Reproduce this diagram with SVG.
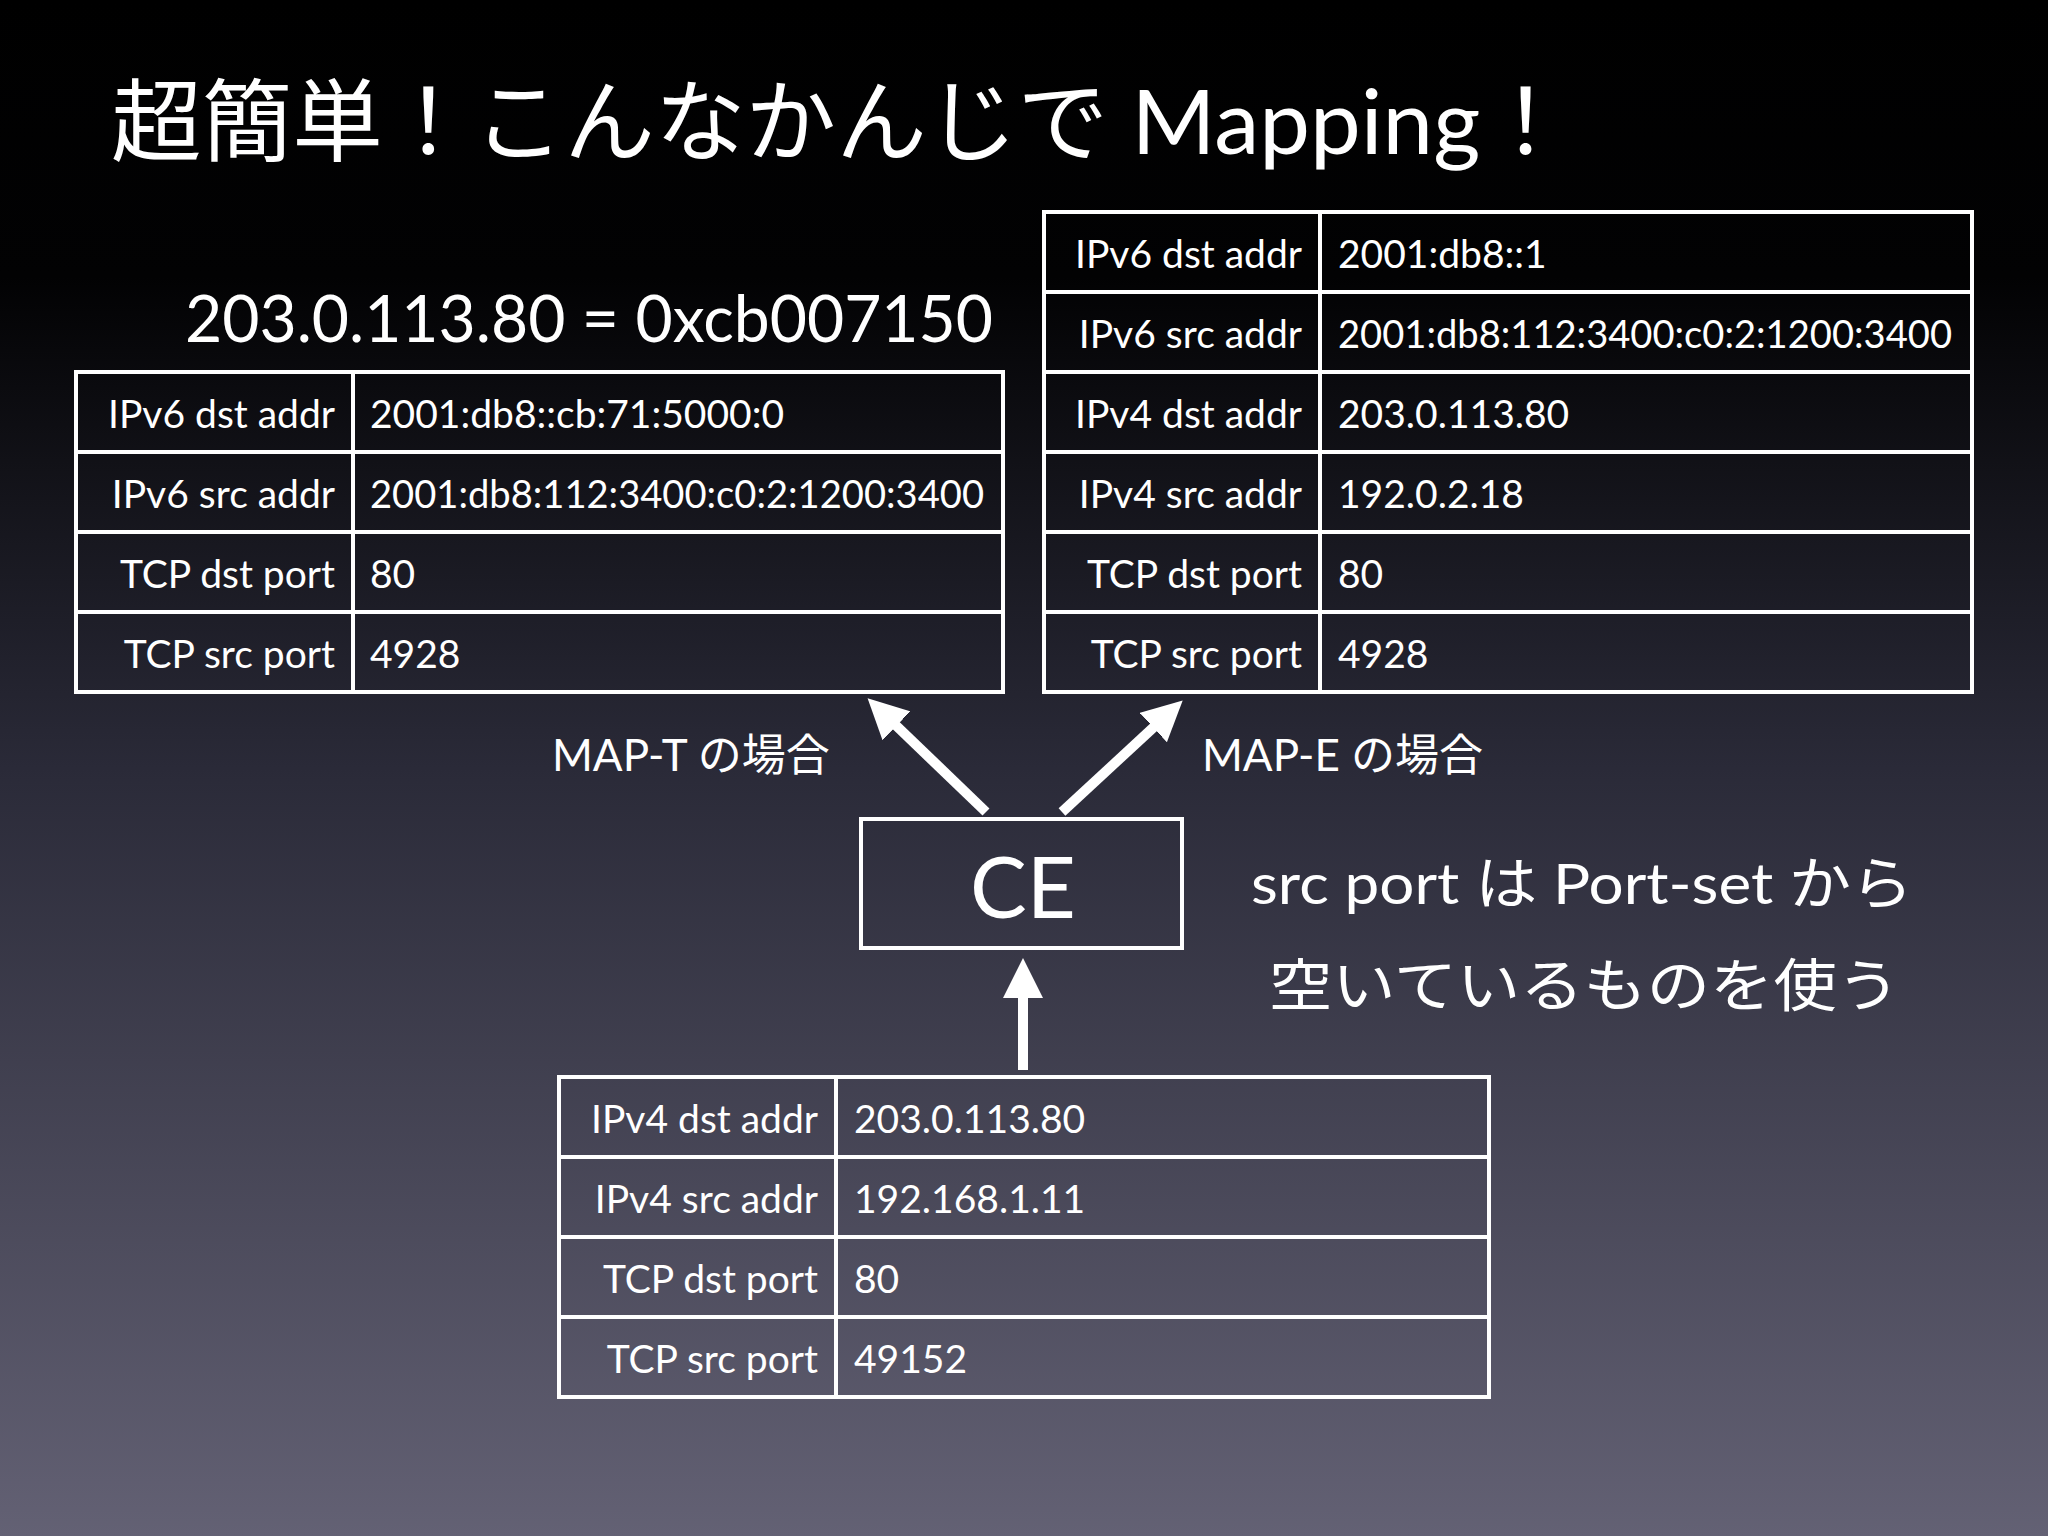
<svg xmlns="http://www.w3.org/2000/svg" width="2048" height="1536" viewBox="0 0 2048 1536">
<defs>
<linearGradient id="bg" x1="0" y1="0" x2="0" y2="1">
<stop offset="0" stop-color="#000"/>
<stop offset="0.18" stop-color="#020203"/>
<stop offset="0.5" stop-color="#2a2a38"/>
<stop offset="1" stop-color="#636174"/>
</linearGradient>
<marker id="ah" markerWidth="4" markerHeight="4" refX="2" refY="2" orient="auto" markerUnits="strokeWidth"><path d="M0,0 L4,2 L0,4 Z" fill="#fff"/></marker>
<style>
.t{font-family:Lato,"Noto Sans CJK JP",sans-serif;fill:#fff}
.c{font-size:39px}
.l{text-anchor:end}
.box{fill:none;stroke:#fff;stroke-width:4}
.ln{stroke:#fff;stroke-width:4}
.ar{stroke:#fff;stroke-width:10;marker-end:url(#ah);fill:none}
</style>
</defs>
<rect width="2048" height="1536" fill="url(#bg)"/>
<text class="t" x="111" y="154" font-size="90" textLength="1460" lengthAdjust="spacingAndGlyphs">超簡単！こんなかんじで Mapping！</text>
<text class="t" x="185" y="342" font-size="65" textLength="808" lengthAdjust="spacingAndGlyphs">203.0.113.80 = 0xcb007150</text>

<g id="mapt-table">
<rect class="box" x="76" y="372" width="927" height="320"/>
<line class="ln" x1="76" y1="452" x2="1003" y2="452"/>
<line class="ln" x1="76" y1="532" x2="1003" y2="532"/>
<line class="ln" x1="76" y1="612" x2="1003" y2="612"/>
<line class="ln" x1="353" y1="372" x2="353" y2="692"/>
<g class="t c">
<text class="l" x="335" y="428">IPv6 dst addr</text><text x="370" y="428">2001:db8::cb:71:5000:0</text>
<text class="l" x="335" y="508">IPv6 src addr</text><text x="370" y="508" textLength="614" lengthAdjust="spacingAndGlyphs">2001:db8:112:3400:c0:2:1200:3400</text>
<text class="l" x="335" y="588">TCP dst port</text><text x="370" y="588">80</text>
<text class="l" x="335" y="668">TCP src port</text><text x="370" y="668">4928</text>
</g>
</g>

<g id="mape-table">
<rect class="box" x="1044" y="212" width="928" height="480"/>
<line class="ln" x1="1044" y1="292" x2="1972" y2="292"/>
<line class="ln" x1="1044" y1="372" x2="1972" y2="372"/>
<line class="ln" x1="1044" y1="452" x2="1972" y2="452"/>
<line class="ln" x1="1044" y1="532" x2="1972" y2="532"/>
<line class="ln" x1="1044" y1="612" x2="1972" y2="612"/>
<line class="ln" x1="1320" y1="212" x2="1320" y2="692"/>
<g class="t c">
<text class="l" x="1302" y="268">IPv6 dst addr</text><text x="1338" y="268">2001:db8::1</text>
<text class="l" x="1302" y="348">IPv6 src addr</text><text x="1338" y="348" textLength="614" lengthAdjust="spacingAndGlyphs">2001:db8:112:3400:c0:2:1200:3400</text>
<text class="l" x="1302" y="428">IPv4 dst addr</text><text x="1338" y="428">203.0.113.80</text>
<text class="l" x="1302" y="508">IPv4 src addr</text><text x="1338" y="508">192.0.2.18</text>
<text class="l" x="1302" y="588">TCP dst port</text><text x="1338" y="588">80</text>
<text class="l" x="1302" y="668">TCP src port</text><text x="1338" y="668">4928</text>
</g>
</g>

<g id="ipv4-table">
<rect class="box" x="559" y="1077" width="930" height="320"/>
<line class="ln" x1="559" y1="1157" x2="1489" y2="1157"/>
<line class="ln" x1="559" y1="1237" x2="1489" y2="1237"/>
<line class="ln" x1="559" y1="1317" x2="1489" y2="1317"/>
<line class="ln" x1="836" y1="1077" x2="836" y2="1397"/>
<g class="t c">
<text class="l" x="818" y="1133">IPv4 dst addr</text><text x="854" y="1133">203.0.113.80</text>
<text class="l" x="818" y="1213">IPv4 src addr</text><text x="854" y="1213">192.168.1.11</text>
<text class="l" x="818" y="1293">TCP dst port</text><text x="854" y="1293">80</text>
<text class="l" x="818" y="1373">TCP src port</text><text x="854" y="1373">49152</text>
</g>
</g>

<g id="ce">
<rect class="box" x="861" y="819" width="321" height="129"/>
<text class="t" x="1023" y="918" font-size="85" text-anchor="middle">CE</text>
</g>

<g id="connectors">
<line class="ar" x1="1023" y1="1070" x2="1023" y2="978"/>
<line class="ar" x1="986" y1="812" x2="882" y2="712"/>
<line class="ar" x1="1062" y1="812" x2="1168" y2="714"/>
</g>

<text class="t" x="552" y="771" font-size="44">MAP-T の場合</text>
<text class="t" x="1202" y="771" font-size="44">MAP-E の場合</text>
<text class="t" x="1251" y="904" font-size="57" textLength="662" lengthAdjust="spacingAndGlyphs">src port は Port-set から</text>
<text class="t" x="1269" y="1006" font-size="57" textLength="631" lengthAdjust="spacingAndGlyphs">空いているものを使う</text>
</svg>
